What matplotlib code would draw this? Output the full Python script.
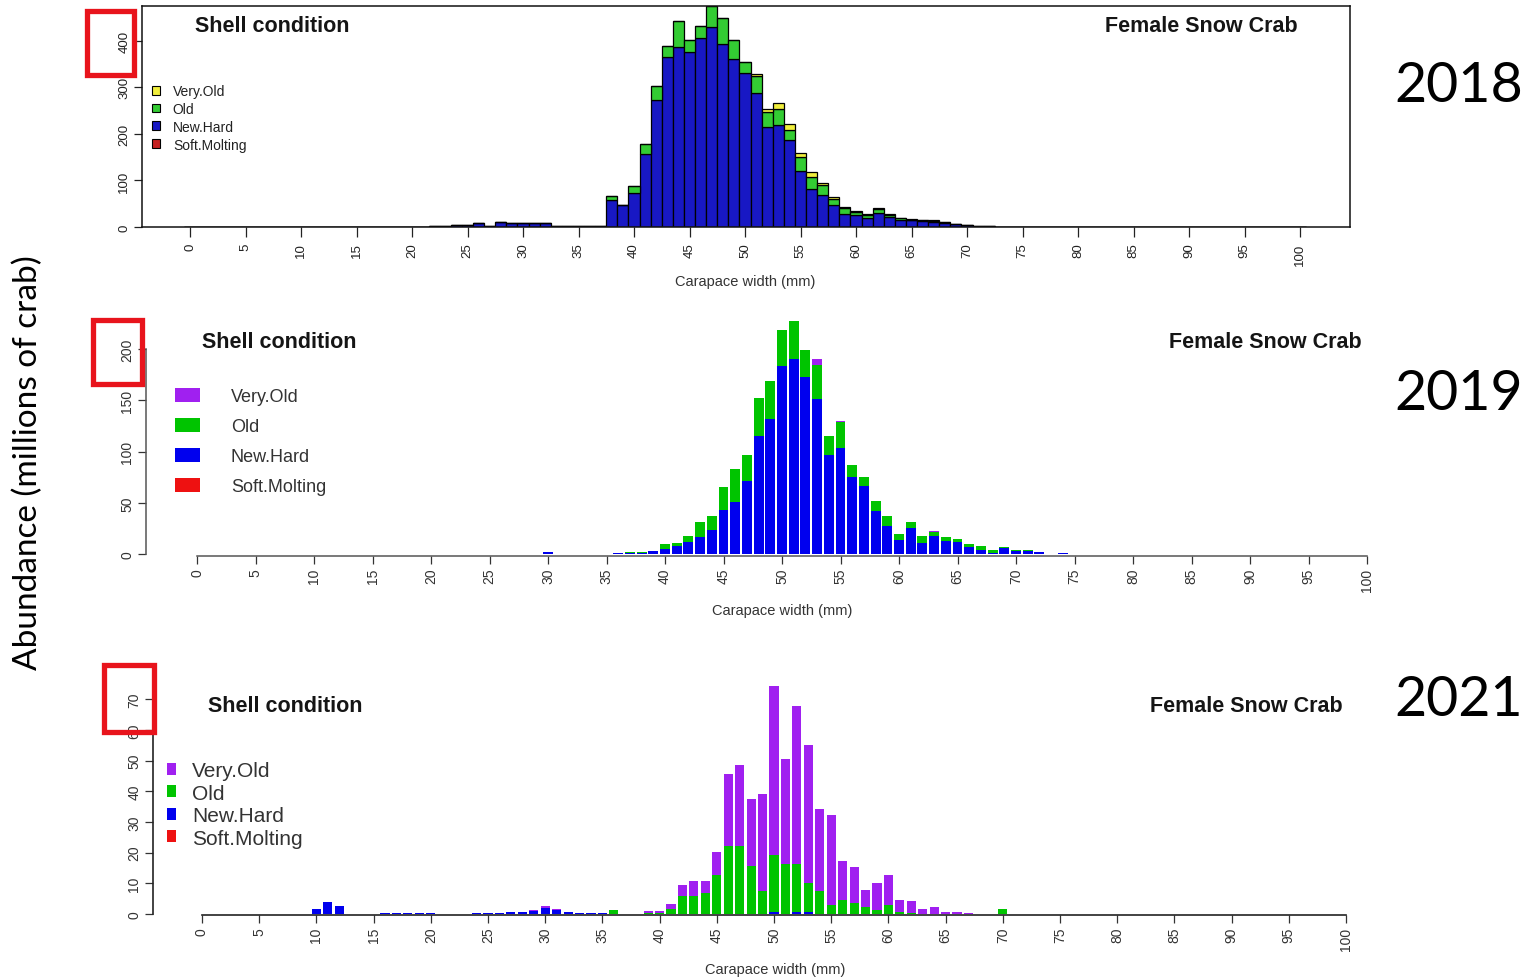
import numpy as np
import matplotlib
matplotlib.use("Agg")
import matplotlib.pyplot as plt
from matplotlib.patches import Patch, Rectangle

# ---------------------------------------------------------------------------
# Female snow crab abundance (millions) by carapace width (mm) and shell condition
# ---------------------------------------------------------------------------
categories = ["Very.Old", "Old", "New.Hard", "Soft.Molting"]
x_ticks = list(range(0, 101, 5))

# 2018, carapace widths 20..74 mm
cw_2018 = np.arange(20, 75)
new_hard_2018 = [1, 1, 1.5, 2, 5, 5, 8, 3, 10, 8.5, 8.5, 8.5, 8.5, 2, 2, 2, 2, 1.5,
                 57, 47, 74, 156, 272, 366, 386, 377, 406, 429, 393, 361, 332, 287,
                 214, 219, 186, 120, 81, 68, 47, 27, 25, 20, 31, 22, 16, 14, 12, 11,
                 9, 6, 4, 2, 2, 1, 1]
old_2018 = [0] * 18 + [9, 0, 14, 23, 30, 23, 56, 25, 25, 45, 57, 40, 23, 38, 33, 34,
                       23, 31, 27, 22, 13, 14, 8, 6, 8, 4, 3, 2, 2, 2, 1, 1, 1, 1,
                       0, 0, 0]
very_old_2018 = [0] * 31 + [3, 6, 13, 12, 9, 10, 5, 5, 2, 1, 1, 1, 1, 1, 1, 1, 1, 1,
                            0, 0, 0, 0, 0, 0]
soft_molting_2018 = [0] * 55
y_ticks_2018 = [0, 100, 200, 300, 400]

# 2019, carapace widths 30..74 mm
cw_2019 = np.arange(30, 75)
new_hard_2019 = [2, 0, 0, 0, 0, 0, 0.5, 0.5, 1, 3.4, 4.5, 8, 11.4, 16.3, 23.4, 43, 51,
                 71, 115, 132, 183, 190, 173, 151, 97, 103, 75, 66, 42, 27.6, 14, 25,
                 11, 18, 13, 12, 7, 4, 1, 6, 3, 3, 1.5, 0, 1]
old_2019 = [0, 0, 0, 0, 0, 0, 0, 1, 0.5, 0, 5, 2.7, 6.4, 15.2, 14, 22, 32, 25.6, 37,
            37, 36, 37, 26, 33, 18, 26, 12, 9, 10, 9.8, 6, 6, 7, 3, 4, 3, 3, 4, 3,
            0.5, 1, 1, 0.5, 0, 0]
very_old_2019 = [0] * 23 + [6, 0, 1] + [0] * 7 + [1] + [0] * 5 + [0.5] + [0] * 5
soft_molting_2019 = [0] * 45
y_ticks_2019 = [0, 50, 100, 150, 200]

# 2021, carapace widths 10..70 mm
cw_2021 = np.arange(10, 71)
new_hard_2021 = ([1.6, 3.8, 2.5, 0, 0, 0, 0.2, 0.2, 0.2, 0.2, 0.2, 0, 0, 0, 0.2, 0.3,
                  0.4, 0.5, 0.5, 1.0, 2.0, 1.2, 0.6, 0.3, 0.3, 0.2]
                 + [0] * 14 + [0.8, 0, 0.5, 0.5] + [0] * 17)
old_2021 = ([0] * 26
            + [1.2, 0, 0, 0.3, 0.3, 1.7, 5.8, 5.8, 6.8, 12.8, 22, 22, 15.5, 7.6, 18.4,
               16.3, 15.8, 9.5, 7.4, 2.8, 4.4, 3.6, 2.2, 1.4, 3, 0.6, 0.4]
            + [0] * 7 + [1.6])
very_old_2021 = ([0] * 17 + [0.3, 0.3, 0.3, 0.7, 0.4, 0.2] + [0] * 6
                 + [0.6, 0.6, 1.7, 3.5, 4.8, 3.8, 7.4, 23.6, 26.6, 22, 31.6, 55.2, 34.3,
                    51.5, 45.1, 26.8, 29.5, 12.9, 11.6, 5.7, 8.7, 9.8, 4, 3.7, 1.6, 2.4,
                    0.5, 0.5, 0.3]
                 + [0, 0, 0])
soft_molting_2021 = [0] * 61
y_ticks_2021 = [0, 10, 20, 30, 40, 50, 60, 70]

colors_2018 = {"Very.Old": "#f0ee3c", "Old": "#33cc33",
               "New.Hard": "#1818c4", "Soft.Molting": "#c42020"}
colors_new = {"Very.Old": "#a020f0", "Old": "#00c400",
              "New.Hard": "#0000ee", "Soft.Molting": "#ee1111"}

W, H = 1538, 979
fig = plt.figure(figsize=(W / 100, H / 100), dpi=100)
FONT = "Liberation Sans"


def px_axes(l, t, r, b):
    return fig.add_axes([l / W, 1 - b / H, (r - l) / W, (b - t) / H])


def ptext(x, y, s, **kw):
    kw.setdefault("va", "center")
    kw.setdefault("family", FONT)
    return fig.text(x / W, 1 - y / H, s, **kw)


def full_range(start, values):
    arr = np.zeros(101)
    arr[start:start + len(values)] = values
    return arr


def stacked(ax, start, series, colors, width, edge, lw, all_bins):
    # series ordered bottom -> top: Soft.Molting, New.Hard, Old, Very.Old
    if all_bins:
        x = np.arange(101)
        data = [full_range(start, s) for s in series]
    else:
        x = np.arange(start, start + len(series[0]))
        data = [np.asarray(s, float) for s in series]
    bottom = np.zeros(len(x))
    for name, vals in zip(["Soft.Molting", "New.Hard", "Old", "Very.Old"], data):
        ax.bar(x, vals, bottom=bottom, width=width, color=colors[name],
               edgecolor=edge, linewidth=lw, zorder=2)
        bottom = bottom + vals


def style_ticks(ax, color, size, length=5.5, pad=3):
    ax.set_xticks(x_ticks)
    ax.tick_params(axis="both", direction="out", length=length, width=0.9,
                   colors=color, labelsize=size, pad=pad)
    for lab in ax.get_xticklabels():
        lab.set_rotation(90)
        lab.set_family(FONT)
        lab.set_color(color)
    for lab in ax.get_yticklabels():
        lab.set_rotation(90)
        lab.set_va("center")
        lab.set_ha("right")
        lab.set_family(FONT)
        lab.set_color(color)


# ---------------- 2018 ----------------
ax1 = px_axes(142, 7, 1350, 228)
stacked(ax1, 20, [soft_molting_2018, new_hard_2018, old_2018, very_old_2018],
        colors_2018, 1.0, "black", 0.9, True)
ax1.set_xlim((142 - 190) / 11.1, (1350 - 190) / 11.1)
ax1.set_ylim(0, 475)
ax1.set_yticks(y_ticks_2018)
for sp in ax1.spines.values():
    sp.set_color("#111")
    sp.set_linewidth(1.1)
style_ticks(ax1, "#222", 9.5)
ax1.tick_params(axis="x", length=7, pad=4)
ax1.legend(handles=[Patch(facecolor=colors_2018[c], edgecolor="black", lw=0.8)
                    for c in categories],
           labels=categories, loc="upper left",
           bbox_to_anchor=(152 / W, 1 - 85 / H), bbox_transform=fig.transFigure,
           frameon=False, prop={"family": FONT, "size": 10}, handlelength=0.6,
           handleheight=0.6, handletextpad=0.9, labelspacing=0.28, borderpad=0,
           borderaxespad=0, labelcolor="#222")

# ---------------- 2019 ----------------
ax2 = px_axes(146, 315, 1390, 557)
stacked(ax2, 30, [soft_molting_2019, new_hard_2019, old_2019, very_old_2019],
        colors_new, 0.85, "none", 0, False)
ax2.set_xlim((146 - 197) / 11.7, (1390 - 197) / 11.7)
ax2.set_ylim(-2 / 1.025, (555 - 315) / 1.025)
ax2.set_yticks(y_ticks_2019)
for s in ["top", "right"]:
    ax2.spines[s].set_visible(False)
ax2.spines["left"].set_bounds(0, 200)
ax2.spines["bottom"].set_bounds(0, 100)
for s in ["left", "bottom"]:
    ax2.spines[s].set_color("#555")
    ax2.spines[s].set_linewidth(1.1)
style_ticks(ax2, "#333", 10)
ax2.legend(handles=[Patch(facecolor=colors_new[c], edgecolor="none") for c in categories],
           labels=categories, loc="upper left",
           bbox_to_anchor=(175 / W, 1 - 389 / H), bbox_transform=fig.transFigure,
           frameon=False, prop={"family": FONT, "size": 13}, handlelength=1.4,
           handleheight=0.78, handletextpad=1.7, labelspacing=0.72, borderpad=0,
           borderaxespad=0, labelcolor="#333")

# ---------------- 2021 ----------------
ax3 = px_axes(153, 680, 1390, 916)
stacked(ax3, 10, [soft_molting_2021, new_hard_2021, old_2021, very_old_2021],
        colors_new, 0.8, "none", 0, False)
ax3.set_xlim((153 - 202) / 11.44, (1390 - 202) / 11.44)
ax3.set_ylim(-1 / 3.07, (915 - 680) / 3.07)
ax3.set_yticks(y_ticks_2021)
for s in ["top", "right"]:
    ax3.spines[s].set_visible(False)
ax3.spines["left"].set_bounds(0, 70)
ax3.spines["bottom"].set_bounds(0, 100)
for s in ["left", "bottom"]:
    ax3.spines[s].set_color("#222")
    ax3.spines[s].set_linewidth(1.2)
style_ticks(ax3, "#333", 10)
ax3.legend(handles=[Patch(facecolor=colors_new[c], edgecolor="none") for c in categories],
           labels=categories, loc="upper left",
           bbox_to_anchor=(167 / W, 1 - 762 / H), bbox_transform=fig.transFigure,
           frameon=False, prop={"family": FONT, "size": 15}, handlelength=0.45,
           handleheight=0.5, handletextpad=0.75, labelspacing=0.17, borderpad=0,
           borderaxespad=0, labelcolor="#333")

# ---------------- panel texts ----------------
for (lx, rx, ty, xl_x, xl_y) in [(195, 1298, 26, 745, 282),
                                 (202, 1362, 343, 782, 611),
                                 (208, 1343, 707, 775, 970)]:
    ptext(lx, ty, "Shell condition", ha="left", fontsize=15.5,
          fontweight="bold", color="#151515")
    ptext(rx, ty, "Female Snow Crab", ha="right", fontsize=15.5,
          fontweight="bold", color="#151515")
    ptext(xl_x, xl_y, "Carapace width (mm)", ha="center", fontsize=10.5, color="#333")

for year, yc in [("2018", 87), ("2019", 394), ("2021", 701)]:
    ptext(1459, yc, year, ha="center", fontsize=40, family="Lato", color="black")

ptext(28, 463, "Abundance (millions of crab)", ha="center", rotation=90,
      fontsize=24, family="Lato", color="black")

# highlight boxes around the top y-axis values
for (l, t, r, b) in [(87, 12, 134, 76), (93, 321, 142, 385), (104, 666, 154, 733)]:
    fig.add_artist(Rectangle((l / W, 1 - b / H), (r - l) / W, (b - t) / H,
                             transform=fig.transFigure, fill=False,
                             edgecolor="#e8141c", linewidth=3.8, zorder=10))

fig.savefig("out.png", dpi=100, facecolor="white")
